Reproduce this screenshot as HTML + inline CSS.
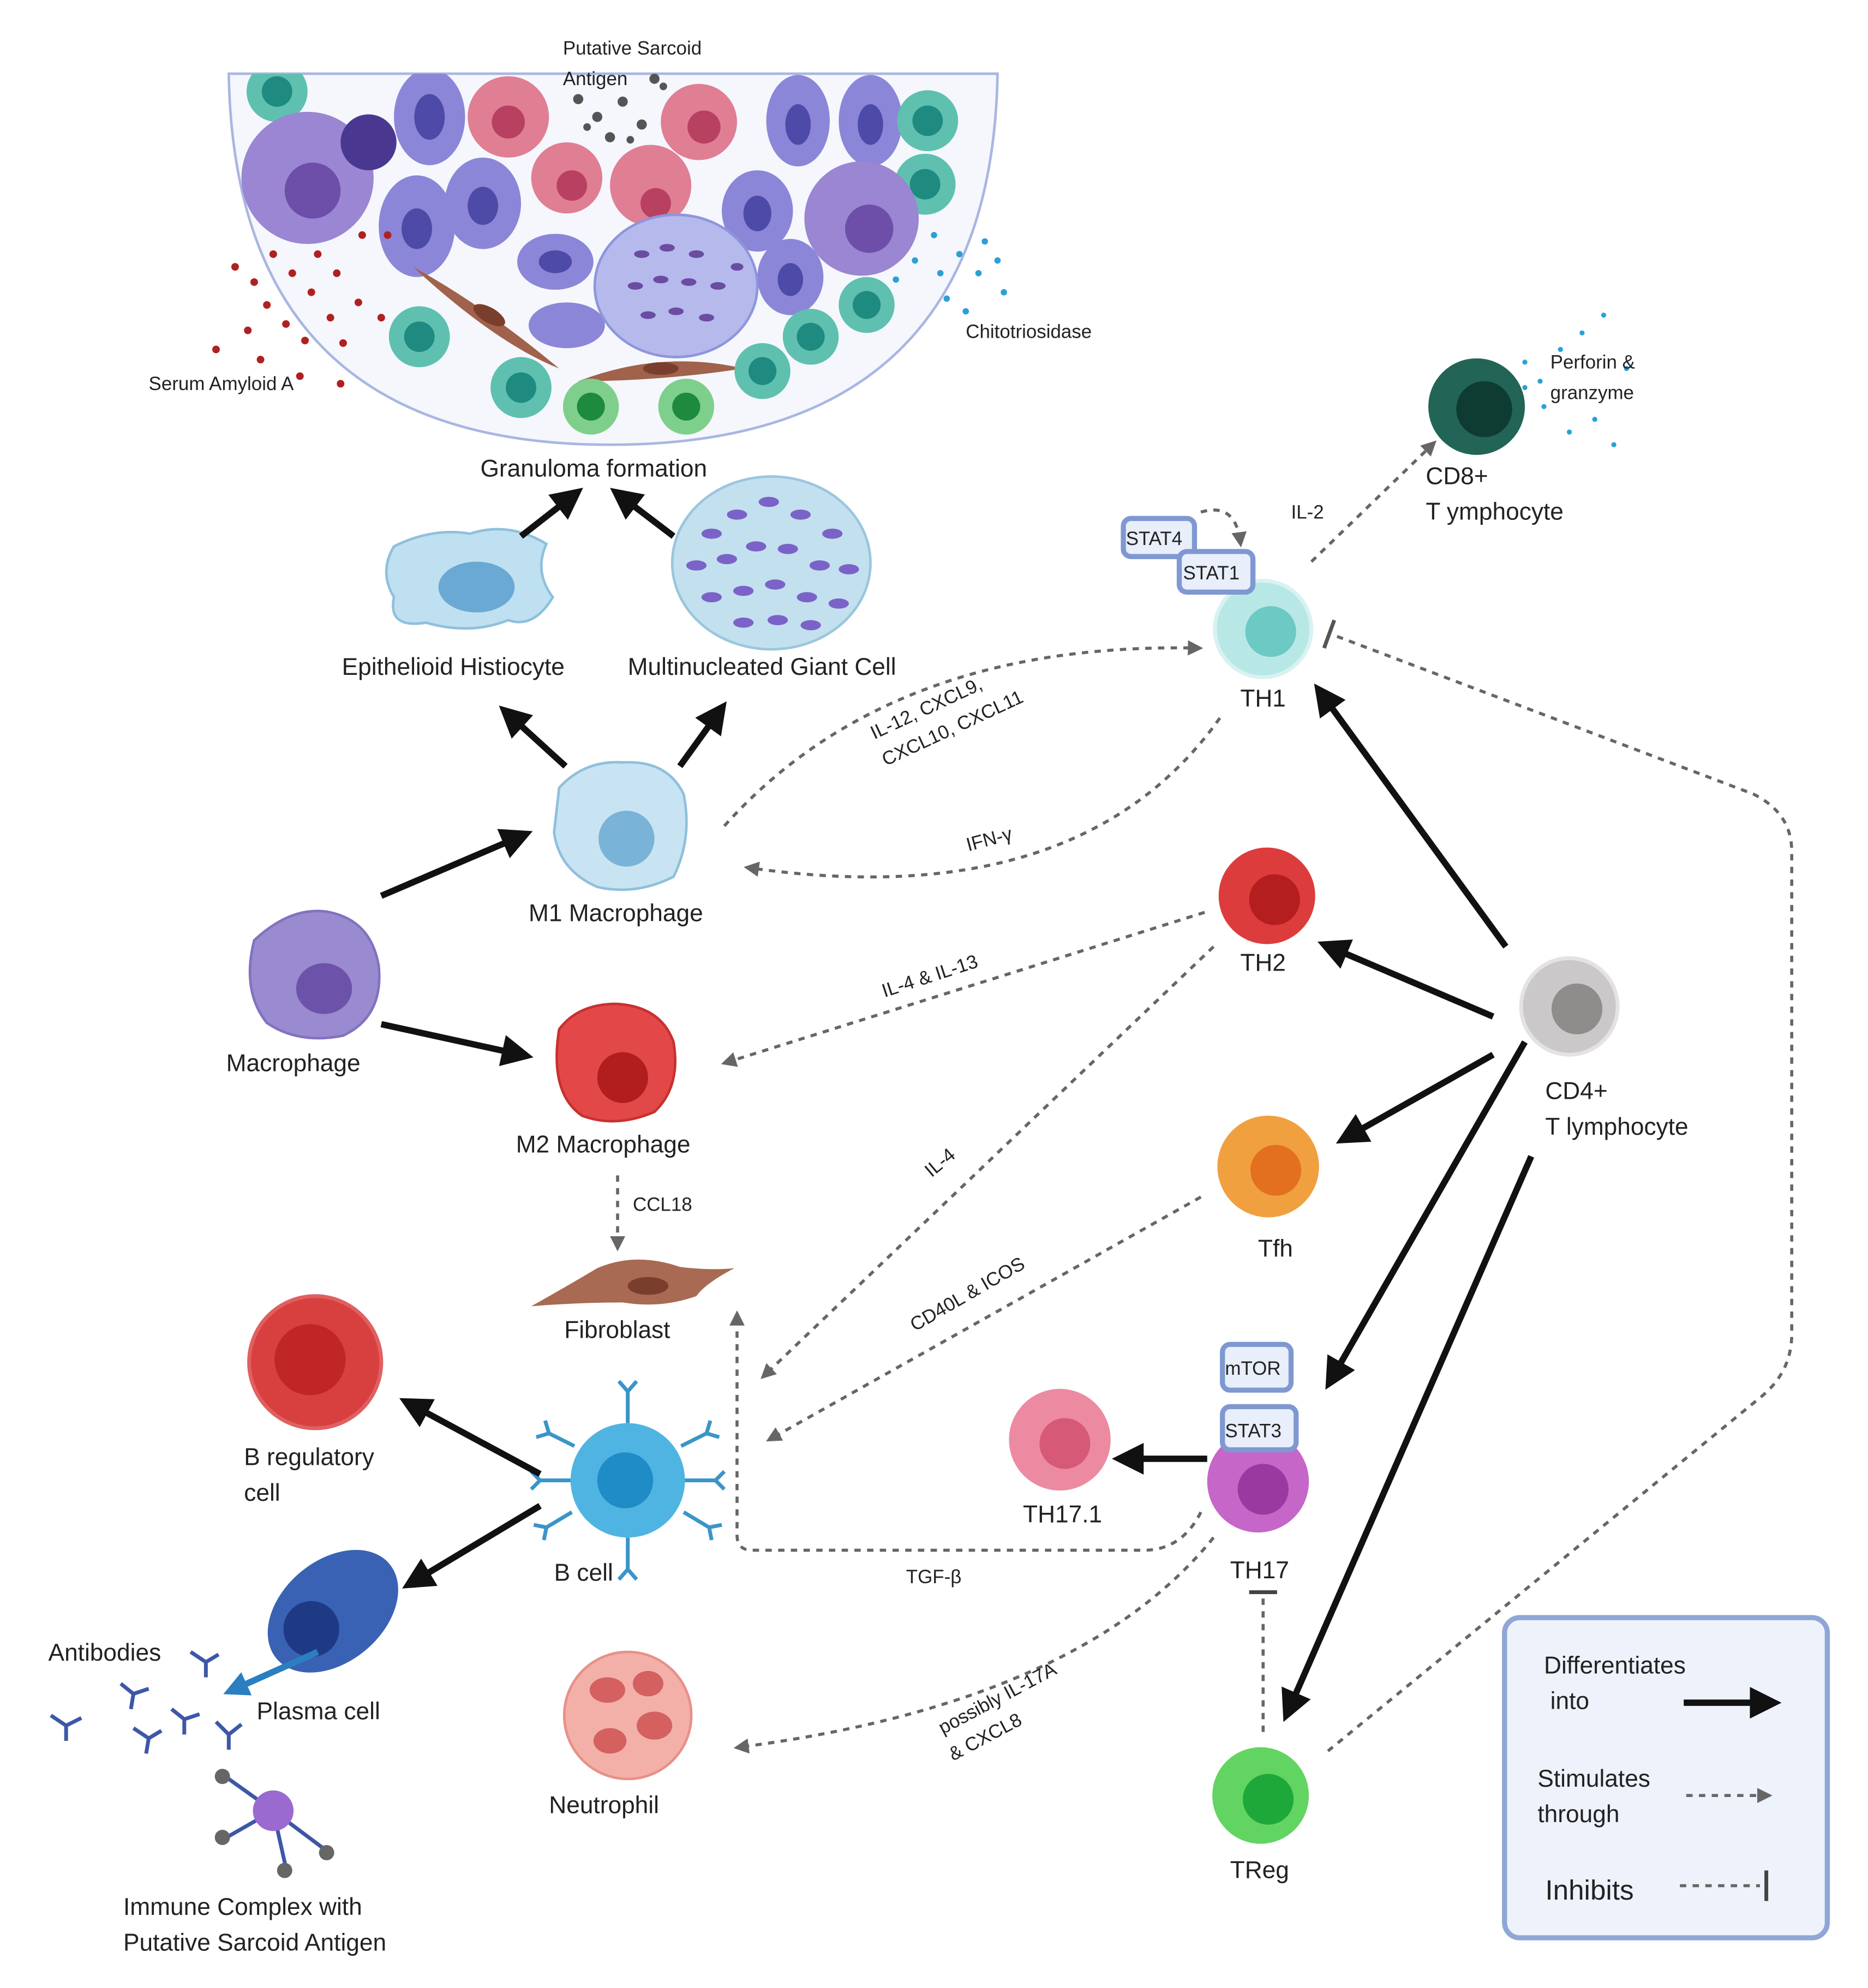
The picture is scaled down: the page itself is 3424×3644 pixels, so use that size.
<!DOCTYPE html>
<html><head><meta charset="utf-8">
<style>
html,body{margin:0;padding:0;background:#fff;}
svg{display:block;}
text{font-family:"Liberation Sans",sans-serif;fill:#222;}
.l{font-size:19px;}
.s{font-size:15px;}
.d{stroke:#666;stroke-width:2.4;stroke-dasharray:5 5;fill:none;}
.a{stroke:#111;stroke-width:5;fill:none;}
.box{fill:#e8eefa;stroke:#7f98d2;stroke-width:4;}
</style></head>
<body>
<svg width="3424" height="3644" viewBox="0 0 1470 1564.5" xmlns="http://www.w3.org/2000/svg">
<defs>
<marker id="ha" viewBox="0 0 10 10" refX="6" refY="5" markerWidth="5" markerHeight="5" orient="auto" markerUnits="strokeWidth"><path d="M0,0 L10,5 L0,10 z" fill="#111"/></marker>
<marker id="hd" viewBox="0 0 10 10" refX="6" refY="5" markerWidth="5" markerHeight="5" orient="auto" markerUnits="strokeWidth"><path d="M0,0 L10,5 L0,10 z" fill="#666"/></marker>
<marker id="hb" viewBox="0 0 10 10" refX="6" refY="5" markerWidth="4" markerHeight="4" orient="auto" markerUnits="strokeWidth"><path d="M0,0 L10,5 L0,10 z" fill="#2a7fc0"/></marker>
<clipPath id="bowl"><path d="M180,58 Q185,350 480,350 Q780,350 785,58 Z"/></clipPath>
</defs>

<!-- Granuloma -->
<path d="M180,58 Q185,350 480,350 Q780,350 785,58 Z" fill="#f5f7fd" stroke="#a9b6e2" stroke-width="2"/>
<g clip-path="url(#bowl)">
<circle cx="218" cy="72" r="24" fill="#5fc0b0"/><circle cx="218" cy="72" r="12" fill="#1f8a80"/>
<circle cx="242" cy="140" r="52" fill="#9a86d2"/><circle cx="246" cy="150" r="22" fill="#6d4ea8"/>
<circle cx="290" cy="112" r="22" fill="#4a3890"/>
<ellipse cx="338" cy="92" rx="28" ry="38" fill="#8c86d8"/><ellipse cx="338" cy="92" rx="12" ry="18" fill="#4e4aa8"/>
<circle cx="400" cy="92" r="32" fill="#e07e94"/><circle cx="400" cy="96" r="13" fill="#b84060"/>
<circle cx="550" cy="96" r="30" fill="#e07e94"/><circle cx="554" cy="100" r="13" fill="#b84060"/>
<circle cx="446" cy="140" r="28" fill="#e07e94"/><circle cx="450" cy="146" r="12" fill="#b84060"/>
<circle cx="512" cy="146" r="32" fill="#e07e94"/><circle cx="516" cy="160" r="12" fill="#b84060"/>
<ellipse cx="628" cy="95" rx="25" ry="36" fill="#8c86d8"/><ellipse cx="628" cy="98" rx="10" ry="16" fill="#4e4aa8"/>
<ellipse cx="685" cy="95" rx="25" ry="36" fill="#8c86d8"/><ellipse cx="685" cy="98" rx="10" ry="16" fill="#4e4aa8"/>
<circle cx="730" cy="95" r="24" fill="#5fc0b0"/><circle cx="730" cy="95" r="12" fill="#1f8a80"/>
<circle cx="728" cy="145" r="24" fill="#5fc0b0"/><circle cx="728" cy="145" r="12" fill="#1f8a80"/>
<circle cx="678" cy="172" r="45" fill="#9a86d2"/><circle cx="684" cy="180" r="19" fill="#6d4ea8"/>
<ellipse cx="328" cy="178" rx="30" ry="40" fill="#8c86d8"/><ellipse cx="328" cy="180" rx="12" ry="16" fill="#4e4aa8"/>
<ellipse cx="380" cy="160" rx="30" ry="36" fill="#8c86d8"/><ellipse cx="380" cy="162" rx="12" ry="15" fill="#4e4aa8"/>
<ellipse cx="437" cy="206" rx="30" ry="22" fill="#8c86d8"/><ellipse cx="437" cy="206" rx="13" ry="9" fill="#4e4aa8"/>
<ellipse cx="446" cy="256" rx="30" ry="18" fill="#8c86d8"/>
<ellipse cx="596" cy="166" rx="28" ry="32" fill="#8c86d8"/><ellipse cx="596" cy="168" rx="11" ry="14" fill="#4e4aa8"/>
<ellipse cx="622" cy="218" rx="26" ry="30" fill="#8c86d8"/><ellipse cx="622" cy="220" rx="10" ry="13" fill="#4e4aa8"/>
<ellipse cx="532" cy="225" rx="64" ry="56" fill="#b5b9ec" stroke="#8f95dc" stroke-width="2"/>
<g fill="#6a4ca0"><ellipse cx="505" cy="200" rx="6" ry="3"/><ellipse cx="525" cy="195" rx="6" ry="3"/><ellipse cx="548" cy="200" rx="6" ry="3"/><ellipse cx="500" cy="225" rx="6" ry="3"/><ellipse cx="520" cy="220" rx="6" ry="3"/><ellipse cx="542" cy="222" rx="6" ry="3"/><ellipse cx="565" cy="225" rx="6" ry="3"/><ellipse cx="510" cy="248" rx="6" ry="3"/><ellipse cx="532" cy="245" rx="6" ry="3"/><ellipse cx="556" cy="250" rx="6" ry="3"/><ellipse cx="580" cy="210" rx="5" ry="3"/></g>
<path d="M325,210 Q380,240 440,290 Q390,270 325,210Z" fill="#a0624a"/><ellipse cx="385" cy="248" rx="14" ry="6" fill="#7a3e2c" transform="rotate(30 385 248)"/>
<path d="M455,300 Q520,275 585,290 Q520,300 455,300Z" fill="#a0624a"/><ellipse cx="520" cy="290" rx="14" ry="5" fill="#7a3e2c"/>
<circle cx="330" cy="265" r="24" fill="#5fc0b0"/><circle cx="330" cy="265" r="12" fill="#1f8a80"/>
<circle cx="410" cy="305" r="24" fill="#5fc0b0"/><circle cx="410" cy="305" r="12" fill="#1f8a80"/>
<circle cx="465" cy="320" r="22" fill="#7fcf8c"/><circle cx="465" cy="320" r="11" fill="#1e8a3e"/>
<circle cx="540" cy="320" r="22" fill="#7fcf8c"/><circle cx="540" cy="320" r="11" fill="#1e8a3e"/>
<circle cx="600" cy="292" r="22" fill="#5fc0b0"/><circle cx="600" cy="292" r="11" fill="#1f8a80"/>
<circle cx="638" cy="265" r="22" fill="#5fc0b0"/><circle cx="638" cy="265" r="11" fill="#1f8a80"/>
<circle cx="682" cy="240" r="22" fill="#5fc0b0"/><circle cx="682" cy="240" r="11" fill="#1f8a80"/>
</g>
<!-- dots -->
<g fill="#555"><circle cx="455" cy="78" r="4"/><circle cx="470" cy="92" r="4"/><circle cx="490" cy="80" r="4"/><circle cx="505" cy="98" r="4"/><circle cx="480" cy="108" r="4"/><circle cx="462" cy="100" r="3"/><circle cx="515" cy="62" r="4"/><circle cx="522" cy="68" r="3"/><circle cx="496" cy="110" r="3"/></g>
<g fill="#b02020"><circle cx="185" cy="210" r="3"/><circle cx="200" cy="222" r="3"/><circle cx="215" cy="200" r="3"/><circle cx="230" cy="215" r="3"/><circle cx="245" cy="230" r="3"/><circle cx="210" cy="240" r="3"/><circle cx="225" cy="255" r="3"/><circle cx="240" cy="268" r="3"/><circle cx="260" cy="250" r="3"/><circle cx="270" cy="270" r="3"/><circle cx="195" cy="260" r="3"/><circle cx="170" cy="275" r="3"/><circle cx="205" cy="283" r="3"/><circle cx="250" cy="200" r="3"/><circle cx="265" cy="215" r="3"/><circle cx="282" cy="238" r="3"/><circle cx="300" cy="250" r="3"/><circle cx="268" cy="302" r="3"/><circle cx="236" cy="296" r="3"/><circle cx="285" cy="185" r="3"/><circle cx="305" cy="185" r="3"/></g>
<g fill="#2aa0d8"><circle cx="705" cy="220" r="2.5"/><circle cx="720" cy="205" r="2.5"/><circle cx="740" cy="215" r="2.5"/><circle cx="755" cy="200" r="2.5"/><circle cx="770" cy="215" r="2.5"/><circle cx="745" cy="235" r="2.5"/><circle cx="760" cy="245" r="2.5"/><circle cx="785" cy="205" r="2.5"/><circle cx="790" cy="230" r="2.5"/><circle cx="775" cy="190" r="2.5"/><circle cx="735" cy="185" r="2.5"/></g>
<g fill="#2aa0d8"><circle cx="1200" cy="285" r="2"/><circle cx="1212" cy="300" r="2"/><circle cx="1228" cy="275" r="2"/><circle cx="1245" cy="262" r="2"/><circle cx="1262" cy="248" r="2"/><circle cx="1255" cy="330" r="2"/><circle cx="1270" cy="350" r="2"/><circle cx="1215" cy="320" r="2"/><circle cx="1235" cy="340" r="2"/><circle cx="1280" cy="290" r="2"/><circle cx="1200" cy="305" r="2"/></g>
<text class="s" x="443" y="43">Putative Sarcoid</text>
<text class="s" x="443" y="67">Antigen</text>
<text class="s" x="760" y="266">Chitotriosidase</text>
<text class="s" x="117" y="307">Serum Amyloid A</text>
<text class="l" x="378" y="375">Granuloma formation</text>

<!-- Epithelioid & giant cell -->
<path d="M310,430 Q340,415 370,420 Q400,410 430,428 Q420,450 435,470 Q420,495 400,488 Q370,500 335,490 Q305,495 310,470 Q298,450 310,430Z" fill="#bfe0f0" stroke="#8fc0dc" stroke-width="2"/>
<ellipse cx="375" cy="462" rx="30" ry="20" fill="#6aa9d4"/>
<ellipse cx="607" cy="443" rx="78" ry="68" fill="#c3e0ee" stroke="#9ac6de" stroke-width="2"/>
<g fill="#7b62c8"><ellipse cx="560" cy="420" rx="8" ry="4"/><ellipse cx="580" cy="405" rx="8" ry="4"/><ellipse cx="605" cy="395" rx="8" ry="4"/><ellipse cx="630" cy="405" rx="8" ry="4"/><ellipse cx="655" cy="420" rx="8" ry="4"/><ellipse cx="548" cy="445" rx="8" ry="4"/><ellipse cx="572" cy="440" rx="8" ry="4"/><ellipse cx="595" cy="430" rx="8" ry="4"/><ellipse cx="620" cy="432" rx="8" ry="4"/><ellipse cx="645" cy="445" rx="8" ry="4"/><ellipse cx="668" cy="448" rx="8" ry="4"/><ellipse cx="560" cy="470" rx="8" ry="4"/><ellipse cx="585" cy="465" rx="8" ry="4"/><ellipse cx="610" cy="460" rx="8" ry="4"/><ellipse cx="635" cy="470" rx="8" ry="4"/><ellipse cx="660" cy="475" rx="8" ry="4"/><ellipse cx="585" cy="490" rx="8" ry="4"/><ellipse cx="612" cy="488" rx="8" ry="4"/><ellipse cx="638" cy="492" rx="8" ry="4"/></g>
<text class="l" x="269" y="531">Epithelioid Histiocyte</text>
<text class="l" x="494" y="531">Multinucleated Giant Cell</text>

<!-- Macrophages -->
<path d="M200,740 Q230,712 260,718 Q292,725 298,760 Q302,800 270,815 Q235,822 210,805 Q190,780 200,740Z" fill="#9a8ad0" stroke="#8272c0" stroke-width="2"/>
<ellipse cx="255" cy="778" rx="22" ry="20" fill="#6d52aa"/>
<text class="l" x="178" y="843">Macrophage</text>
<path d="M440,620 Q460,598 490,600 Q525,598 538,625 Q545,660 530,690 Q500,705 470,698 Q440,685 436,655Z" fill="#c8e4f3" stroke="#8fc0dc" stroke-width="2"/>
<circle cx="493" cy="660" r="22" fill="#7ab3d8"/>
<text class="l" x="416" y="725">M1 Macrophage</text>
<path d="M440,810 Q455,790 485,790 Q520,792 530,820 Q536,855 515,875 Q485,888 458,878 Q432,860 440,810Z" fill="#e24848" stroke="#c83030" stroke-width="2"/>
<circle cx="490" cy="848" r="20" fill="#b21e1e"/>
<text class="l" x="406" y="907">M2 Macrophage</text>
<!-- Fibroblast -->
<path d="M418,1028 Q450,1010 470,998 Q500,985 535,997 Q560,1000 578,998 Q555,1010 548,1020 Q520,1030 490,1025 Q455,1025 418,1028Z" fill="#a86a52"/>
<ellipse cx="510" cy="1012" rx="16" ry="7" fill="#7a3e2c"/>
<text class="l" x="444" y="1053">Fibroblast</text>

<!-- T cells -->
<circle cx="1162" cy="320" r="38" fill="#226456"/><circle cx="1168" cy="322" r="22" fill="#0e3c33"/>
<text class="s" x="1220" y="290">Perforin &amp;</text><text class="s" x="1220" y="314">granzyme</text>
<text class="l" x="1122" y="381">CD8+</text><text class="l" x="1122" y="409">T ymphocyte</text>
<text class="s" x="1016" y="408">IL-2</text>
<circle cx="994" cy="495" r="38" fill="#b8e8e6" stroke="#d8f2f2" stroke-width="3"/><circle cx="1000" cy="497" r="20" fill="#6cc9c4"/>
<text class="l" x="976" y="556">TH1</text>
<rect x="884" y="408" width="56" height="30" rx="6" class="box"/><text x="886" y="429" style="font-size:15px">STAT4</text>
<rect x="928" y="434" width="58" height="32" rx="6" class="box"/><text x="931" y="456" style="font-size:15px">STAT1</text>
<circle cx="997" cy="705" r="38" fill="#dd3c3c"/><circle cx="1003" cy="708" r="20" fill="#b51e1e"/>
<text class="l" x="976" y="764">TH2</text>
<circle cx="1235" cy="792" r="38" fill="#cac8c8" stroke="#e4e2e2" stroke-width="3"/><circle cx="1241" cy="794" r="20" fill="#8f8c8c"/>
<text class="l" x="1216" y="865">CD4+</text><text class="l" x="1216" y="893">T lymphocyte</text>
<circle cx="998" cy="918" r="40" fill="#f1a040"/><circle cx="1004" cy="921" r="20" fill="#e2701e"/>
<text class="l" x="990" y="989">Tfh</text>
<rect x="962" y="1058" width="54" height="36" rx="6" class="box"/><text x="964" y="1082" style="font-size:15px">mTOR</text>
<circle cx="990" cy="1166" r="40" fill="#c566c8"/><circle cx="994" cy="1172" r="20" fill="#9a3aa0"/>
<rect x="962" y="1107" width="58" height="34" rx="6" class="box"/><text x="964" y="1131" style="font-size:15px">STAT3</text>
<text class="l" x="968" y="1242">TH17</text>
<circle cx="834" cy="1133" r="40" fill="#ec8aa2"/><circle cx="838" cy="1136" r="20" fill="#d65a78"/>
<text class="l" x="805" y="1198">TH17.1</text>
<circle cx="992" cy="1413" r="38" fill="#62d462"/><circle cx="998" cy="1416" r="20" fill="#1fa83a"/>
<text class="l" x="968" y="1478">TReg</text>

<!-- B cells -->
<g stroke="#3a95c8" stroke-width="3" fill="none">
<path d="M494,1120 V1095 M494,1095 l-7,-8 M494,1095 l7,-8"/>
<path d="M494,1210 V1235 M494,1235 l-7,8 M494,1235 l7,8"/>
<path d="M452,1138 l-20,-10 M432,1128 l-3,-10 M432,1128 l-10,3"/>
<path d="M536,1138 l20,-10 M556,1128 l3,-10 M556,1128 l10,3"/>
<path d="M450,1190 l-20,12 M430,1202 l-10,-2 M430,1202 l-2,10"/>
<path d="M538,1190 l20,12 M558,1202 l10,-2 M558,1202 l2,10"/>
<path d="M450,1165 h-25 M425,1165 l-7,-7 M425,1165 l-7,7"/>
<path d="M538,1165 h25 M563,1165 l7,-7 M563,1165 l7,7"/>
</g>
<circle cx="494" cy="1165" r="45" fill="#50b4e2"/><circle cx="492" cy="1165" r="22" fill="#1f8cc6"/>
<text class="l" x="436" y="1244">B cell</text>
<circle cx="248" cy="1072" r="52" fill="#d84040" stroke="#e06060" stroke-width="3"/><circle cx="244" cy="1070" r="28" fill="#c02626"/>
<text class="l" x="192" y="1153">B regulatory</text><text class="l" x="192" y="1181">cell</text>
<ellipse cx="262" cy="1268" rx="58" ry="40" fill="#3a62b4" transform="rotate(-40 262 1268)"/>
<circle cx="245" cy="1282" r="22" fill="#1f3a84"/>
<text class="l" x="202" y="1353">Plasma cell</text>
<text class="l" x="38" y="1307">Antibodies</text>
<g stroke="#3d57a8" stroke-width="3" fill="none">
<path d="M150,1300 l12,8 l10,-6 M162,1308 l0,12"/>
<path d="M95,1325 l10,8 l12,-4 M105,1333 l-2,12"/>
<path d="M40,1350 l12,8 l12,-6 M52,1358 l0,12"/>
<path d="M105,1360 l12,8 l10,-6 M117,1368 l-2,12"/>
<path d="M135,1345 l10,8 l12,-4 M145,1353 l0,12"/>
<path d="M170,1355 l10,10 l10,-8 M180,1365 l0,12"/>
</g>
<g stroke="#3d57a8" stroke-width="3"><line x1="215" y1="1425" x2="180" y2="1400"/><line x1="215" y1="1425" x2="180" y2="1445"/><line x1="215" y1="1425" x2="225" y2="1470"/><line x1="215" y1="1425" x2="255" y2="1455"/></g>
<g fill="#666"><circle cx="175" cy="1398" r="6"/><circle cx="175" cy="1446" r="6"/><circle cx="224" cy="1472" r="6"/><circle cx="257" cy="1458" r="6"/></g>
<circle cx="215" cy="1425" r="16" fill="#9a6ad0"/>
<text class="l" x="97" y="1507">Immune Complex with</text><text class="l" x="97" y="1535">Putative Sarcoid Antigen</text>
<!-- Neutrophil -->
<circle cx="494" cy="1350" r="50" fill="#f2b0a8" stroke="#e89088" stroke-width="2"/>
<g fill="#d46060"><ellipse cx="478" cy="1330" rx="14" ry="10"/><ellipse cx="510" cy="1325" rx="12" ry="10"/><ellipse cx="515" cy="1358" rx="14" ry="11"/><ellipse cx="480" cy="1370" rx="13" ry="10"/></g>
<text class="l" x="432" y="1427">Neutrophil</text>

<!-- Legend box -->
<rect x="1184" y="1273" width="254" height="252" rx="12" fill="#eef2fb" stroke="#8fa6d6" stroke-width="4"/>

<!-- Solid arrows -->
<g class="a" marker-end="url(#ha)">
<line x1="300" y1="705" x2="410" y2="658"/>
<line x1="300" y1="806" x2="410" y2="830"/>
<line x1="445" y1="603" x2="400" y2="562"/>
<line x1="535" y1="603" x2="566" y2="560"/>
<line x1="410" y1="422" x2="451" y2="390"/>
<line x1="530" y1="422" x2="488" y2="390"/>
<line x1="1185" y1="745" x2="1040" y2="546"/>
<line x1="1175" y1="800" x2="1046" y2="745"/>
<line x1="1175" y1="830" x2="1060" y2="895"/>
<line x1="1200" y1="820" x2="1048" y2="1085"/>
<line x1="1205" y1="910" x2="1014" y2="1346"/>
<line x1="950" y1="1148" x2="885" y2="1148"/>
<line x1="425" y1="1160" x2="323" y2="1105"/>
<line x1="425" y1="1185" x2="325" y2="1245"/>
<line x1="1325" y1="1340" x2="1392" y2="1340"/>
</g>
<line x1="250" y1="1300" x2="183" y2="1330" stroke="#2a7fc0" stroke-width="5" marker-end="url(#hb)"/>

<!-- Dashed arrows -->
<g class="d" marker-end="url(#hd)">
<path d="M570,650 Q700,505 942,510"/>
<path d="M960,565 Q850,720 590,683"/>
<line x1="948" y1="718" x2="572" y2="836"/>
<line x1="955" y1="745" x2="602" y2="1082"/>
<line x1="945" y1="942" x2="607" y2="1132"/>
<line x1="486" y1="925" x2="486" y2="980"/>
<path d="M945,1190 Q930,1220 900,1220 L592,1220 Q580,1220 580,1208 L580,1036"/>
<path d="M955,1210 Q850,1340 582,1375"/>
<line x1="1032" y1="442" x2="1127" y2="350"/>
<path d="M945,403 Q972,395 976,426"/>
<line x1="1327" y1="1413" x2="1390" y2="1413"/>
</g>
<path class="d" d="M1045,1378 L1385,1100 Q1410,1080 1410,1050 L1410,670 Q1410,640 1380,625 L1050,500"/>
<line x1="1042" y1="510" x2="1050" y2="488" stroke="#555" stroke-width="3"/>
<line class="d" x1="994" y1="1258" x2="994" y2="1365"/>
<line x1="983" y1="1253" x2="1005" y2="1253" stroke="#444" stroke-width="3"/>

<!-- Labels on connectors -->
<text class="s" transform="translate(688,582) rotate(-25)">IL-12, CXCL9,</text>
<text class="s" transform="translate(697,603) rotate(-25)">CXCL10, CXCL11</text>
<text class="s" transform="translate(762,670) rotate(-15)">IFN-γ</text>
<text class="s" transform="translate(696,785) rotate(-18)">IL-4 &amp; IL-13</text>
<text class="s" transform="translate(733,927) rotate(-40)">IL-4</text>
<text class="s" transform="translate(720,1048) rotate(-30)">CD40L &amp; ICOS</text>
<text class="s" x="498" y="953">CCL18</text>
<text class="s" x="713" y="1246">TGF-β</text>
<text class="s" transform="translate(742,1365) rotate(-28)">possibly IL-17A</text>
<text class="s" transform="translate(750,1386) rotate(-28)">&amp; CXCL8</text>

<!-- Legend text -->
<text class="l" x="1215" y="1317">Differentiates</text><text class="l" x="1220" y="1345">into</text>
<text class="l" x="1210" y="1406">Stimulates</text><text class="l" x="1210" y="1434">through</text>
<text x="1216" y="1495" style="font-size:22px">Inhibits</text>
<line class="d" x1="1322" y1="1484" x2="1385" y2="1484"/>
<line x1="1390" y1="1472" x2="1390" y2="1496" stroke="#444" stroke-width="3"/>
</svg>
</body></html>
